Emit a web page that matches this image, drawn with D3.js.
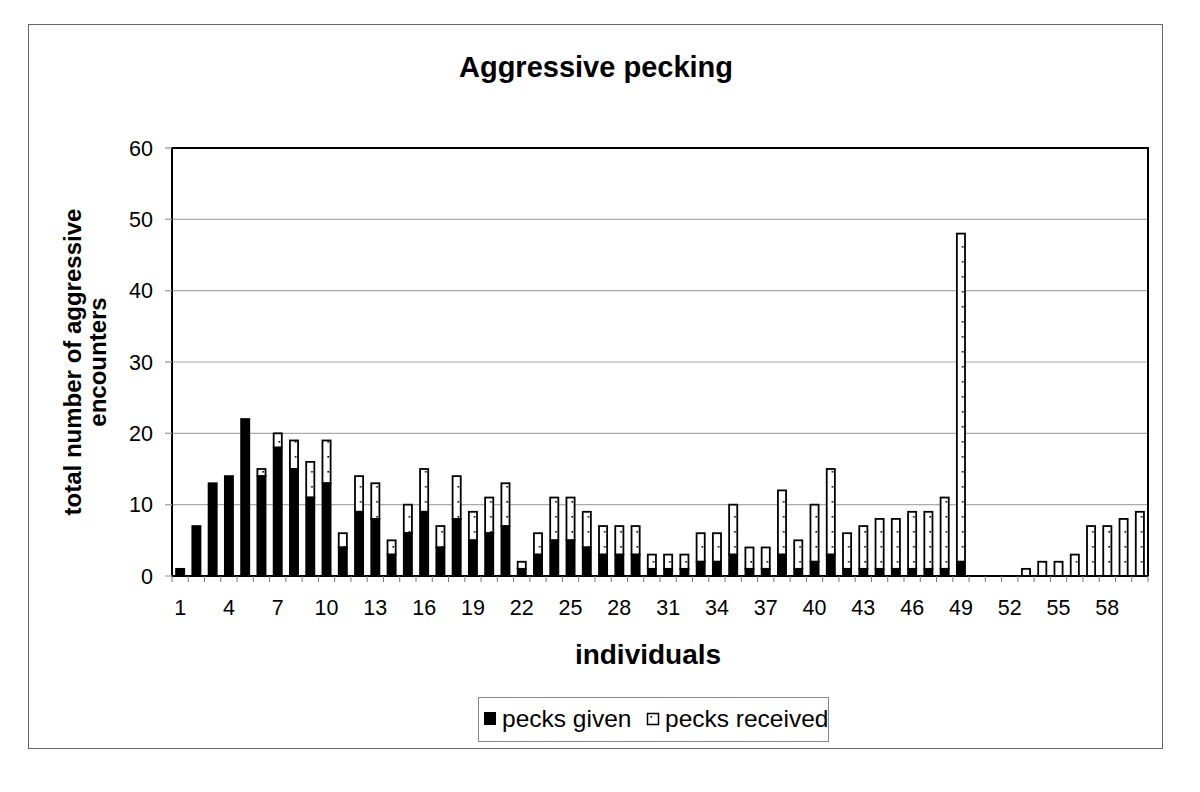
<!DOCTYPE html>
<html><head><meta charset="utf-8">
<script src="https://cdn.jsdelivr.net/npm/d3@7"></script>
<style>
html,body{margin:0;padding:0;background:#fff;}
text{font-family:"Liberation Sans",Arial,sans-serif;}
</style></head>
<body><svg id="c" width="1200" height="792"></svg>
<script>
const individuals = d3.range(1, 61);
const pecksGiven = [1,7,13,14,22,14,18,15,11,13,4,9,8,3,6,9,4,8,5,6,7,1,3,5,5,4,3,3,3,1,1,1,2,2,3,1,1,3,1,2,3,1,1,1,1,1,1,1,2,0,0,0,0,0,0,0,0,0,0,0];
const totals =     [1,7,13,14,22,15,20,19,16,19,6,14,13,5,10,15,7,14,9,11,13,2,6,11,11,9,7,7,7,3,3,3,6,6,10,4,4,12,5,10,15,6,7,8,8,9,9,11,48,0,0,0,1,2,2,3,7,7,8,9];
const pecksReceived = totals.map((t,i)=>t-pecksGiven[i]);
const yTicks = [0,10,20,30,40,50,60];
const xTickLabels = individuals.filter(d => (d-1)%3===0);

const svg = d3.select("#c");
const defs = svg.append("defs");
const pat = defs.append("pattern").attr("id","dots").attr("patternUnits","userSpaceOnUse")
  .attr("width",16.27).attr("height",15).attr("x",172);
pat.append("rect").attr("width",16.27).attr("height",15).attr("fill","#fff");
pat.append("rect").attr("x",9).attr("y",6).attr("width",1.6).attr("height",1.6).attr("fill","#000");

// outer border
svg.append("rect").attr("x",28.5).attr("y",24.5).attr("width",1134).attr("height",724)
  .attr("fill","#fff").attr("stroke","#666").attr("stroke-width",1);

const L=172, R=1148, T=148, B=576;
const x = d3.scaleBand().domain(individuals).range([L,R]).paddingInner(0.5).paddingOuter(0.25);
const y = d3.scaleLinear().domain([0,60]).range([B,T]);

// gridlines
svg.append("g").selectAll("line").data(yTicks.filter(d=>d>0)).join("line")
  .attr("x1",L-7).attr("x2",R).attr("y1",d=>y(d)).attr("y2",d=>y(d))
  .attr("stroke","#aaa").attr("stroke-width",1.2);

// bars
const bw = x.bandwidth();
const g = svg.append("g");
g.selectAll("rect.rec").data(individuals.filter((d,i)=>pecksReceived[i]>0)).join("rect")
  .attr("class","rec")
  .attr("x",d=>x(d)).attr("width",bw)
  .attr("y",d=>y(totals[d-1])).attr("height",d=>y(pecksGiven[d-1])-y(totals[d-1]))
  .attr("fill","url(#dots)").attr("stroke","#000").attr("stroke-width",1.8);
g.selectAll("rect.giv").data(individuals.filter((d,i)=>pecksGiven[i]>0)).join("rect")
  .attr("class","giv")
  .attr("x",d=>x(d)).attr("width",bw)
  .attr("y",d=>y(pecksGiven[d-1])).attr("height",d=>y(0)-y(pecksGiven[d-1]))
  .attr("fill","#000").attr("stroke","#000").attr("stroke-width",1.8);

// plot frame
svg.append("path").attr("d",`M${L},${B}V${T}H${R}V${B}`).attr("fill","none").attr("stroke","#000").attr("stroke-width",2);
svg.append("line").attr("x1",L).attr("x2",R).attr("y1",B).attr("y2",B).attr("stroke","#000").attr("stroke-width",2);

// y axis ticks / labels
const yAxis = svg.append("g");
yAxis.selectAll("line").data(yTicks).join("line")
  .attr("x1",L-7).attr("x2",L).attr("y1",d=>y(d)).attr("y2",d=>y(d)).attr("stroke","#aaa").attr("stroke-width",1.2);
yAxis.selectAll("text").data(yTicks).join("text")
  .attr("x",L-19).attr("y",d=>y(d)).attr("dy","0.36em").attr("text-anchor","end")
  .attr("font-size",21.5).text(d=>d);

// x ticks at band boundaries
const bounds = d3.range(0,61).map(i=>L + i*(R-L)/60);
svg.append("g").selectAll("line").data(bounds).join("line")
  .attr("x1",d=>d).attr("x2",d=>d).attr("y1",B).attr("y2",B+6).attr("stroke","#777").attr("stroke-width",1);
svg.append("g").selectAll("text").data(xTickLabels).join("text")
  .attr("x",d=>x(d)+bw/2).attr("y",615).attr("text-anchor","middle").attr("font-size",21.5).text(d=>d);

// titles
svg.append("text").attr("x",596).attr("y",77).attr("text-anchor","middle").attr("font-size",29).attr("font-weight","bold").text("Aggressive pecking");
svg.append("text").attr("x",648).attr("y",664).attr("text-anchor","middle").attr("font-size",28).attr("font-weight","bold").text("individuals");
const yt = svg.append("text").attr("transform",`translate(0,362) rotate(-90)`).attr("text-anchor","middle").attr("font-size",24).attr("font-weight","bold");
yt.append("tspan").attr("x",0).attr("y",81).text("total number of aggressive");
yt.append("tspan").attr("x",0).attr("y",106).text("encounters");

// legend
const lg = svg.append("g");
lg.append("rect").attr("x",478.5).attr("y",697.5).attr("width",350).attr("height",44).attr("fill","#fff").attr("stroke","#888").attr("stroke-width",1);
lg.append("rect").attr("x",484).attr("y",712).attr("width",12).attr("height",13).attr("fill","#000");
lg.append("text").attr("x",502).attr("y",727).attr("font-size",24.5).text("pecks given");
lg.append("rect").attr("x",647.5).attr("y",713.5).attr("width",11).attr("height",11).attr("fill","#fff").attr("stroke","#000").attr("stroke-width",1.5);
lg.append("rect").attr("x",650.5).attr("y",716).attr("width",1.6).attr("height",1.6).attr("fill","#000");
lg.append("text").attr("x",665).attr("y",727).attr("font-size",24.5).text("pecks received");
</script></body></html>
